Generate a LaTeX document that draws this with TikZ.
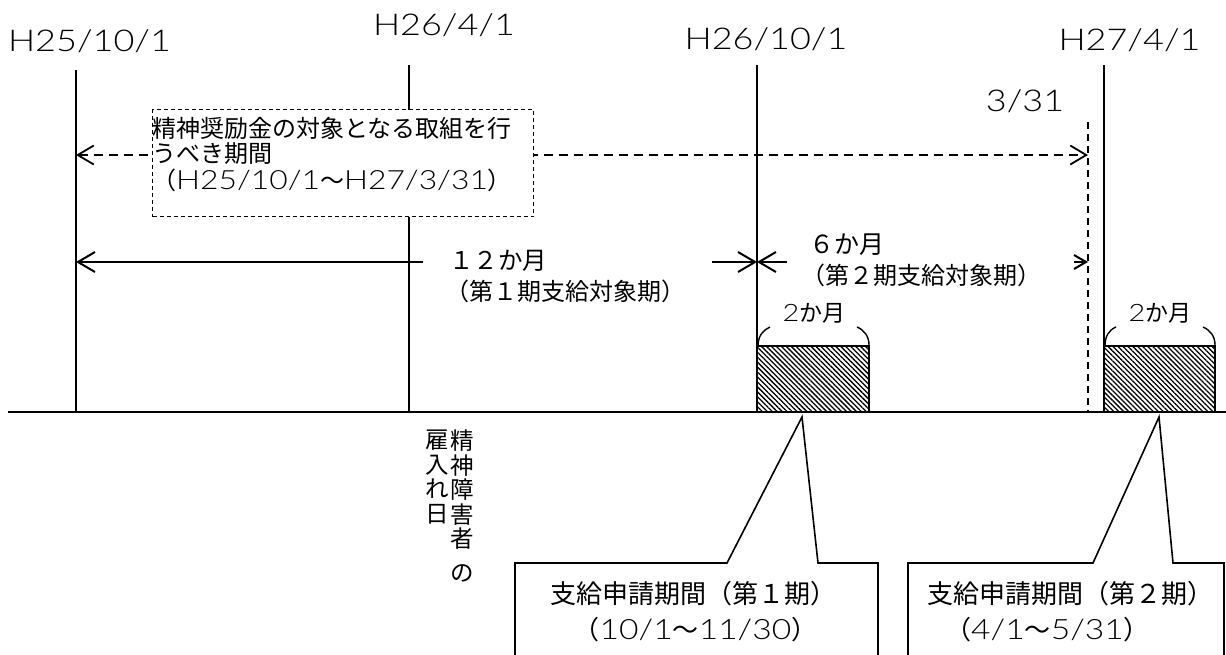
\documentclass[tikz,border=0pt]{standalone}
\usepackage{fontspec}
\setmainfont{Noto Sans CJK JP}
\newfontfamily\lat[FakeStretch=1.2]{Lato Light}
\usetikzlibrary{arrows.meta,patterns.meta}
\newcommand{\fs}[1]{\fontsize{#1}{#1}\selectfont}
\begin{document}
\begin{tikzpicture}[x=1pt,y=-1pt,
  vline/.style={line width=1.5pt},
  vdash/.style={line width=1.3pt,dash pattern=on 7pt off 5pt},
  base/.style={line width=2.6pt},
  aline/.style={line width=2pt},
  dline/.style={line width=1.8pt,dash pattern=on 9pt off 6pt},
  dbox/.style={draw,fill=white,line width=1pt,dash pattern=on 4pt off 3pt,inner sep=0pt},
  hatch/.style={draw,line width=2pt,pattern={Lines[angle=-45,distance=3.5pt,line width=1.3pt]}},
  arc/.style={line width=1.4pt},
  callout/.style={draw,fill=white,line width=1.6pt},
  big/.style={-{Straight Barb[length=17pt,width=20pt,line width=2pt]}},
  small/.style={-{Straight Barb[length=12pt,width=14pt,line width=2pt]}},
  txt/.style={inner sep=0pt},
  date/.style={inner sep=0pt,font=\lat\fs{30}},
]
\useasboundingbox (0,0) rectangle (1226,654);
\clip (0,0) rectangle (1226,654);

% date labels
\node[date] (d1) at (89.5,41) {H25/10/1};
\node[date] (d2) at (444,25) {H26/4/1};
\node[date] (d3) at (766,39) {H26/10/1};
\node[date] (d4) at (1129.5,40) {H27/4/1};
\node[date] (d5) at (1025,101) {3/31};

% vertical lines
\coordinate (L1t) at (76,70);   \coordinate (L1b) at (76,412);
\coordinate (L2t) at (409,65);  \coordinate (L2b) at (409,412);
\coordinate (L3t) at (757,65);  \coordinate (L3b) at (757,412);
\coordinate (L4t) at (1104,65); \coordinate (L4b) at (1104,412);
\coordinate (L5t) at (1088,122);\coordinate (L5b) at (1088,412);
\draw[vline] (L1t) -- (L1b);
\draw[vline] (L2t) -- (L2b);
\draw[vline] (L3t) -- (L3b);
\draw[vline] (L4t) -- (L4b);
\draw[vdash] (L5t) -- (L5b);

% dashed period arrow
\coordinate (dA) at (76,155); \coordinate (dB) at (1088,155);
\draw[dline,{Straight Barb[length=16pt,width=19pt,line width=1.8pt]}-{Straight Barb[length=16pt,width=19pt,line width=1.8pt]}] (dA) -- (dB);

% dashed box
\node[dbox,anchor=north west,minimum width=381pt,minimum height=107pt] (bx) at (152,109) {};
\node[txt,anchor=west,font=\fs{24}] (bt1) at (152,128) {精神奨励金の対象となる取組を行};
\node[txt,anchor=west,font=\fs{24}] (bt2) at (152,154) {うべき期間};
\node[txt,anchor=west,font=\fs{24}] (bt3) at (152,180) {（{\lat\fs{26.5}H25/10/1}～{\lat\fs{26.5}H27/3/31}）};

% 12 month / 6 month arrows
\coordinate (a1) at (76,262);  \coordinate (m1) at (423,262);
\coordinate (a2) at (757,262); \coordinate (m2) at (712,262); \coordinate (m3) at (787,262);
\coordinate (a4) at (1088,262); \coordinate (m4) at (1074,262);
\draw[aline,big] (m1) -- (a1);
\draw[aline,big] (m2) -- (a2);
\draw[aline,big] (m3) -- (a2);
\draw[aline,small] (m4) -- (a4);

\node[txt,font=\fs{24.5}] (t12) at (498,261) {１２か月};
\node[txt,font=\fs{24}] (t12b) at (565,291) {（第１期支給対象期）};
\node[txt,font=\fs{25}] (t6) at (847,245) {６か月};
\node[txt,font=\fs{24}] (t6b) at (921.5,275) {（第２期支給対象期）};

% hatched boxes
\draw[hatch] (757,346) rectangle (869,412);
\draw[hatch] (1104,346) rectangle (1215,412);
\draw[arc] (758,346) .. controls (758,336) and (763,330) .. (770,327);
\draw[arc] (857,327) .. controls (864,330) and (869,336) .. (869,345);
\draw[arc] (1105,346) .. controls (1105,336) and (1109,330) .. (1116,327);
\draw[arc] (1203,327) .. controls (1210,330) and (1215,336) .. (1215,345);
\node[txt,anchor=base] (tw1) at (814,321) {{\lat\fs{24}2}{\fs{23}か月}};
\node[txt,anchor=base] (tw2) at (1160,321) {{\lat\fs{24}2}{\fs{23}か月}};

% baseline
\coordinate (g0) at (8,412); \coordinate (g1) at (1226,412);
\draw[base] (g0) -- (g1);

% vertical label
\node[txt,anchor=north,align=center,font=\fontsize{23.5}{23.5}\selectfont] (vr) at (462,430) {精\\[1pt]神\\[1pt]障\\[1pt]害\\[1pt]者\\[10pt]の};
\node[txt,anchor=north,align=center,font=\fontsize{23.5}{23.5}\selectfont] (vl) at (437,430) {雇\\[1pt]入\\[1pt]れ\\[1pt]日};

% callouts
\draw[callout] (515,670) -- (515,563) -- (727,563) -- (802,417) -- (818,563) -- (878,563) -- (878,670);
\draw[callout] (908,670) -- (908,563) -- (1093,563) -- (1159,417) -- (1173,563) -- (1224,563) -- (1224,670);
\node[txt,font=\fs{26}] (c1a) at (693,594) {支給申請期間（第１期）};
\node[txt,font=\fs{26}] (c1b) at (695.5,630) {（{\lat\fs{28}10/1}～{\lat\fs{28}11/30}）};
\node[txt,font=\fs{26}] (c2a) at (1070,594) {支給申請期間（第２期）};
\node[txt,font=\fs{26}] (c2b) at (1047.5,630) {（{\lat\fs{28}4/1}～{\lat\fs{28}5/31}）};
\end{tikzpicture}
\end{document}
